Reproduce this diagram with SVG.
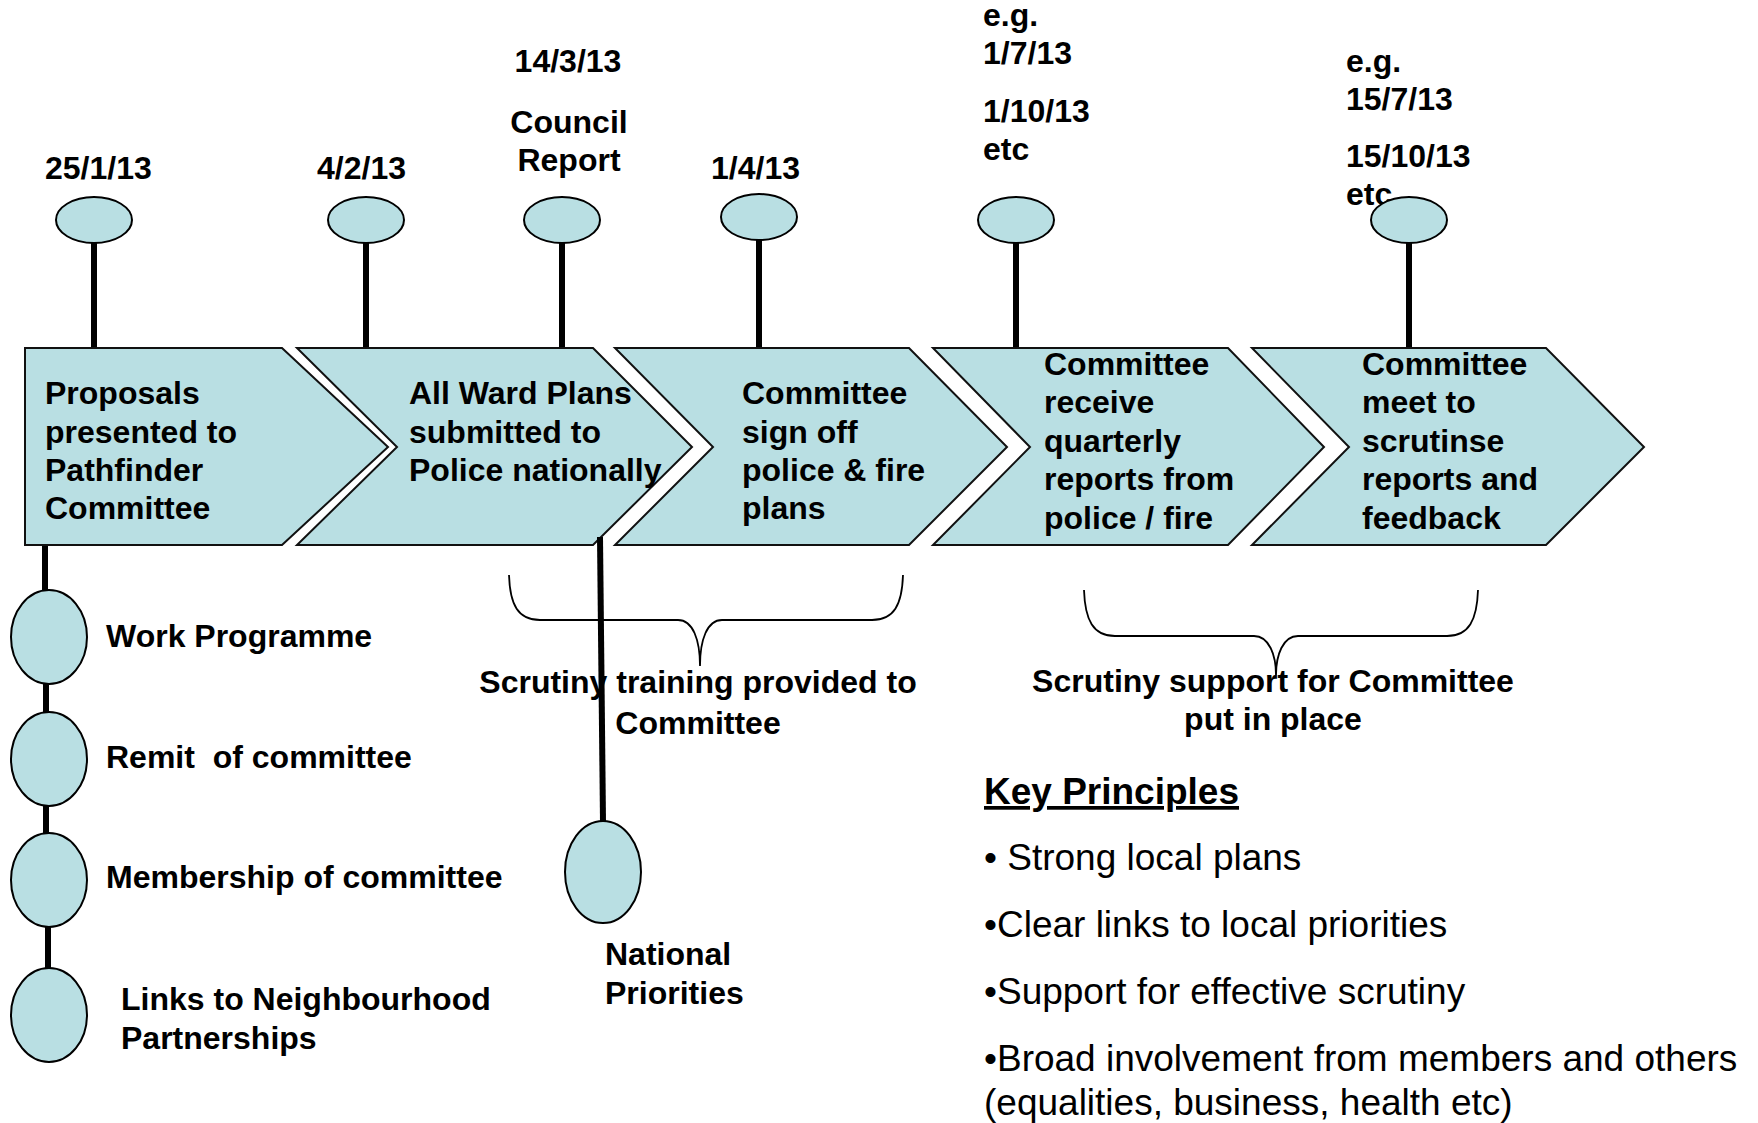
<svg xmlns="http://www.w3.org/2000/svg" width="1758" height="1123" viewBox="0 0 1758 1123">
  <style>
    .t { font-family: "Liberation Sans", Arial, sans-serif; font-weight: bold; font-size: 32px; fill: #000; white-space: pre; }
    .tc { text-anchor: middle; }
    .kp { font-family: "Liberation Sans", Arial, sans-serif; font-size: 37px; fill: #000; }
    .chev { fill: #B9DFE3; stroke: #111; stroke-width: 2; stroke-linejoin: miter; }
    .dot { fill: #B9DFE3; stroke: #000; stroke-width: 2; }
    .stem { stroke: #000; stroke-width: 6; fill: none; }
    .brace { stroke: #000; stroke-width: 1.8; fill: none; }
  </style>
  <rect width="1758" height="1123" fill="#fff"/>

  <!-- connectors: stems and braces -->
  <g id="connectors">
    <line class="stem" x1="94" y1="242" x2="94" y2="349"/>
    <line class="stem" x1="366" y1="242" x2="366" y2="349"/>
    <line class="stem" x1="562" y1="242" x2="562" y2="349"/>
    <line class="stem" x1="759" y1="239" x2="759" y2="349"/>
    <line class="stem" x1="1016" y1="242" x2="1016" y2="349"/>
    <line class="stem" x1="1409" y1="242" x2="1409" y2="349"/>
    <line class="stem" x1="45" y1="546" x2="45" y2="591"/>
    <line class="stem" x1="46" y1="684" x2="46" y2="713"/>
    <line class="stem" x1="46" y1="806" x2="46" y2="834"/>
    <line class="stem" x1="48" y1="927" x2="48" y2="969"/>
    <path class="brace" d="M509 575 C510 605 518 620 540 620 L678 620 C693 620 700 640 700 666 C700 640 707 620 722 620 L872 620 C894 620 902 605 903 575"/>
    <path class="brace" d="M1084 590 C1085 620 1093 636 1115 636 L1254 636 C1269 636 1276 655 1276 675 C1276 655 1283 636 1298 636 L1447 636 C1469 636 1477 620 1478 590"/>
  </g>

  <!-- process chevrons -->
  <g id="step1">
    <polygon class="chev" points="25,348 282,348 388,447 282,545 25,545"/>
    <text class="t" x="45" y="404">Proposals</text>
    <text class="t" x="45" y="443">presented to</text>
    <text class="t" x="45" y="481">Pathfinder</text>
    <text class="t" x="45" y="519">Committee</text>
  </g>
  <g id="step2">
    <polygon class="chev" points="297,348 593,348 692,447 593,545 297,545 397,447"/>
    <text class="t" x="409" y="404">All Ward Plans</text>
    <text class="t" x="409" y="443">submitted to</text>
    <text class="t" x="409" y="481">Police nationally</text>
  </g>
  <g id="step3">
    <polygon class="chev" points="615,348 909,348 1007,447 909,545 615,545 713,447"/>
    <text class="t" x="742" y="404">Committee</text>
    <text class="t" x="742" y="443">sign off</text>
    <text class="t" x="742" y="481">police &amp; fire</text>
    <text class="t" x="742" y="519">plans</text>
  </g>
  <g id="step4">
    <polygon class="chev" points="933,348 1228,348 1324,447 1228,545 933,545 1030,447"/>
    <text class="t" x="1044" y="375">Committee</text>
    <text class="t" x="1044" y="413">receive</text>
    <text class="t" x="1044" y="452">quarterly</text>
    <text class="t" x="1044" y="490">reports from</text>
    <text class="t" x="1044" y="529">police / fire</text>
  </g>
  <g id="step5">
    <polygon class="chev" points="1252,348 1546,348 1644,447 1546,545 1252,545 1349,447"/>
    <text class="t" x="1362" y="375">Committee</text>
    <text class="t" x="1362" y="413">meet to</text>
    <text class="t" x="1362" y="452">scrutinse</text>
    <text class="t" x="1362" y="490">reports and</text>
    <text class="t" x="1362" y="529">feedback</text>
  </g>

  <!-- national priorities stem sits on top of step 2 edge -->
  <line class="stem" x1="600" y1="537" x2="603" y2="822"/>

  <!-- timeline milestones -->
  <g id="m1">
    <ellipse class="dot" cx="94" cy="220" rx="38" ry="23"/>
    <text class="t" x="45" y="179">25/1/13</text>
  </g>
  <g id="m2">
    <ellipse class="dot" cx="366" cy="220" rx="38" ry="23"/>
    <text class="t" x="317" y="179">4/2/13</text>
  </g>
  <g id="m3">
    <ellipse class="dot" cx="562" cy="220" rx="38" ry="23"/>
    <text class="t tc" x="568" y="72">14/3/13</text>
    <text class="t tc" x="569" y="133">Council</text>
    <text class="t tc" x="569" y="171">Report</text>
  </g>
  <g id="m4">
    <ellipse class="dot" cx="759" cy="217" rx="38" ry="23"/>
    <text class="t" x="711" y="179">1/4/13</text>
  </g>
  <g id="m5">
    <ellipse class="dot" cx="1016" cy="220" rx="38" ry="23"/>
    <text class="t" x="983" y="26">e.g.</text>
    <text class="t" x="983" y="64">1/7/13</text>
    <text class="t" x="983" y="122">1/10/13</text>
    <text class="t" x="983" y="160">etc</text>
  </g>
  <g id="m6">
    <text class="t" x="1346" y="72">e.g.</text>
    <text class="t" x="1346" y="110">15/7/13</text>
    <text class="t" x="1346" y="167">15/10/13</text>
    <text class="t" x="1346" y="205">etc</text>
    <ellipse class="dot" cx="1409" cy="220" rx="38" ry="23"/>
  </g>

  <!-- committee set-up items -->
  <g id="work-programme">
    <ellipse class="dot" cx="49" cy="637" rx="38" ry="47"/>
    <text class="t" x="106" y="647">Work Programme</text>
  </g>
  <g id="remit">
    <ellipse class="dot" cx="49" cy="759" rx="38" ry="47"/>
    <text class="t" x="106" y="768" xml:space="preserve">Remit  of committee</text>
  </g>
  <g id="membership">
    <ellipse class="dot" cx="49" cy="880" rx="38" ry="47"/>
    <text class="t" x="106" y="888">Membership of committee</text>
  </g>
  <g id="links">
    <ellipse class="dot" cx="49" cy="1015" rx="38" ry="47"/>
    <text class="t" x="121" y="1010">Links to Neighbourhood</text>
    <text class="t" x="121" y="1049">Partnerships</text>
  </g>

  <g id="national-priorities">
    <ellipse class="dot" cx="603" cy="872" rx="38" ry="51"/>
    <text class="t" x="605" y="965">National</text>
    <text class="t" x="605" y="1004">Priorities</text>
  </g>

  <g id="scrutiny-training">
    <text class="t tc" x="698" y="693">Scrutiny training provided to</text>
    <text class="t tc" x="698" y="734">Committee</text>
  </g>
  <g id="scrutiny-support">
    <text class="t tc" x="1273" y="692">Scrutiny support for Committee</text>
    <text class="t tc" x="1273" y="730">put in place</text>
  </g>

  <g id="key-principles">
    <text class="kp" x="984" y="804" font-weight="bold" text-decoration="underline">Key Principles</text>
    <text class="kp" x="984" y="870">• Strong local plans</text>
    <text class="kp" x="984" y="937">•Clear links to local priorities</text>
    <text class="kp" x="984" y="1004">•Support for effective scrutiny</text>
    <text class="kp" x="984" y="1071">•Broad involvement from members and others</text>
    <text class="kp" x="984" y="1115">(equalities, business, health etc)</text>
  </g>
</svg>
